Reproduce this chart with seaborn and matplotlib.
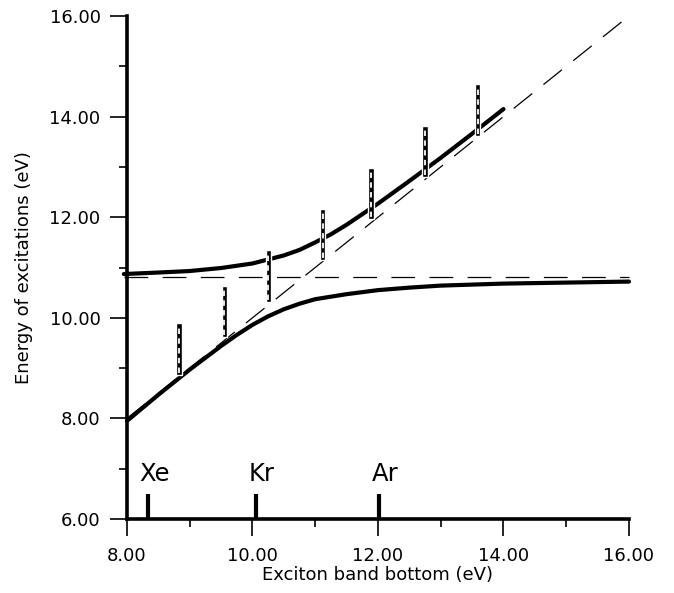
import matplotlib
matplotlib.use("Agg")
import matplotlib.pyplot as plt
import seaborn as sns
import numpy as np
from matplotlib.ticker import MultipleLocator, FormatStrFormatter

# ---- data ----
upper_x = [7.95, 8.5, 9.0, 9.5, 10.0, 10.5, 10.75, 11.0, 11.25, 11.5, 12.0, 12.5, 13.0, 13.5, 14.0]
upper_y = [10.87, 10.90, 10.93, 10.99, 11.08, 11.24, 11.35, 11.50, 11.66, 11.85, 12.27, 12.72, 13.18, 13.66, 14.15]

lower_x = [8.0, 8.5, 9.0, 9.5, 9.75, 10.0, 10.25, 10.5, 10.75, 11.0, 11.5, 12.0, 12.5, 13.0, 14.0, 15.0, 16.0]
lower_y = [7.95, 8.47, 8.97, 9.44, 9.66, 9.86, 10.03, 10.17, 10.28, 10.37, 10.47, 10.55, 10.60, 10.64, 10.68, 10.70, 10.72]

diag_x = [8.0, 16.0]
diag_y = [8.0, 16.0]
flat_x = [7.95, 16.0]
flat_y = [10.81, 10.81]

bar_x = [8.83, 9.55, 10.25, 11.12, 11.89, 12.75, 13.59]
bar_lo = [8.86, 9.61, 10.32, 11.15, 11.96, 12.80, 13.61]
bar_hi = [9.89, 10.64, 11.35, 12.16, 12.98, 13.81, 14.65]

elem_names = ["Xe", "Kr", "Ar"]
elem_x = [8.34, 10.05, 12.02]

x_ticks = [8, 10, 12, 14, 16]
y_ticks = [6, 8, 10, 12, 14, 16]

# ---- style ----
sns.set_style("ticks")
plt.rcParams["font.family"] = ["DejaVu Sans"]
plt.rcParams["text.color"] = "black"
plt.rcParams["axes.labelcolor"] = "black"
plt.rcParams["xtick.color"] = "black"
plt.rcParams["ytick.color"] = "black"

fig = plt.figure(figsize=(6.74, 5.93), dpi=100)
ax = fig.add_axes([0.1884, 0.1248, 0.7448, 0.8482])

dash = (0, (19, 11.5))
sns.lineplot(x=diag_x, y=diag_y, ax=ax, color="black", lw=0.9, linestyle=dash,
             sort=False, estimator=None)
sns.lineplot(x=flat_x, y=flat_y, ax=ax, color="black", lw=0.9, linestyle=dash,
             sort=False, estimator=None)
sns.lineplot(x=upper_x, y=upper_y, ax=ax, color="black", lw=3.0,
             sort=False, estimator=None)
sns.lineplot(x=lower_x, y=lower_y, ax=ax, color="black", lw=3.0,
             sort=False, estimator=None)
for l in ax.lines:
    l.set_clip_on(False)
    l.set_solid_joinstyle("round")

# hatched experimental bars
heights = np.array(bar_hi) - np.array(bar_lo)
ax.bar(bar_x, heights, bottom=bar_lo, width=0.085, color="black", zorder=4)
ax.vlines(bar_x, np.array(bar_lo) + 0.04, np.array(bar_hi) - 0.04, colors="white",
          lw=1.3, linestyles=(0, (3.0, 2.4)), zorder=5)

# rare gas markers
ax.vlines(elem_x, 6.0, 6.5, colors="black", lw=3, zorder=4, clip_on=False)
for name, xv in zip(elem_names, elem_x):
    ax.text(xv + 0.1, 6.9, name, fontsize=17.5, ha="center", va="center")

ax.set_xlim(8, 16)
ax.set_ylim(6, 16)
ax.set_xticks(x_ticks)
ax.set_yticks(y_ticks)
ax.xaxis.set_minor_locator(MultipleLocator(1))
ax.yaxis.set_minor_locator(MultipleLocator(1))
ax.xaxis.set_major_formatter(FormatStrFormatter("%.2f"))
ax.yaxis.set_major_formatter(FormatStrFormatter("%.2f"))
ax.tick_params(which="major", length=12, width=1.2, labelsize=13, pad=7, color="black",
               labelcolor="black")
ax.tick_params(which="minor", length=6, width=1.2, color="black")
ax.tick_params(axis="x", which="major", pad=8)

for s in ["top", "right"]:
    ax.spines[s].set_visible(False)
for s in ["left", "bottom"]:
    ax.spines[s].set_linewidth(2.6)
    ax.spines[s].set_color("black")

ax.set_xlabel("Exciton band bottom (eV)", fontsize=13, labelpad=1)
ax.set_ylabel("Energy of excitations (eV)", fontsize=13, labelpad=12)

fig.savefig("out.png", dpi=100)
